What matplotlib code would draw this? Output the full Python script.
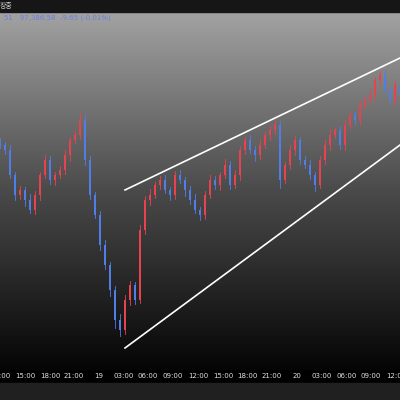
import matplotlib
matplotlib.use("Agg")
import matplotlib.pyplot as plt
import numpy as np
from matplotlib.colors import LinearSegmentedColormap

# closes (price units = chart pixel scale), one candle every 5 units of x
closes = [255,250,225,205,210,200,190,205,225,240,220,225,230,245,260,265,280,240,205,185,
          155,135,110,80,70,100,115,100,170,200,205,215,220,210,205,225,220,210,200,190,
          185,205,220,215,225,235,215,225,250,260,250,245,255,265,270,275,220,235,250,260,
          240,235,225,215,240,255,265,270,255,275,285,280,295,300,305,320,325,310,300,315,305]
wick_hi = [4,3,5,3,4,3,6,4,3,5,4,3,4,5,3,4,7,5,4,3,4,5,3,4,6,5,4,3,5,4,6,3,4,5,3,4,5,3,4,6,
           3,4,5,4,3,6,4,5,4,3,5,4,6,3,4,5,4,3,5,4,3,4,5,3,4,5,6,3,4,5,4,3,5,4,6,3,4,5,3,4,5]
wick_lo = [3,4,3,5,4,6,3,4,5,3,4,5,3,4,6,3,4,5,4,3,5,4,6,8,6,4,5,4,3,4,5,3,4,3,5,4,3,6,4,3,
           5,4,3,4,5,3,4,3,5,4,3,6,4,3,5,4,8,3,4,5,4,3,4,6,3,4,5,3,4,5,3,4,5,4,3,5,4,3,4,5,3]
upper_line = [(125, 210), (400, 342)]
lower_line = [(125, 52), (400, 255)]
tick_x = [0,25,50,74,99,124,148,173,198,223,247,272,297,322,347,371,396]
tick_labels = ["12:00","15:00","18:00","21:00","19","03:00","06:00","09:00","12:00",
               "15:00","18:00","21:00","20","03:00","06:00","09:00","12:00"]

fig = plt.figure(figsize=(4,4), dpi=100)
fig.patch.set_facecolor("#000000")
ax = fig.add_axes([0, 30/400, 1, 358/400])
ax.set_xlim(0, 400); ax.set_ylim(30, 388)
grad = np.linspace(0, 1, 256).reshape(-1, 1)
cm = LinearSegmentedColormap.from_list("g", ["#a2a2a2", "#4a4a4a", "#050505"])
ax.imshow(grad, aspect="auto", cmap=cm, extent=[0,400,30,388], origin="upper", zorder=0)
for s in ax.spines.values(): s.set_visible(False)
ax.set_xticks([]); ax.set_yticks([])

prev = closes[0] + 3
for i, c in enumerate(closes):
    x = i * 5
    o = prev
    col = "#e8424e" if c >= o else "#4f7ee8"
    hi = max(o, c) + wick_hi[i]; lo = min(o, c) - wick_lo[i]
    ax.plot([x, x], [lo, hi], color=col, lw=0.6, zorder=2)
    ax.bar(x, abs(c - o) if abs(c - o) > 0.5 else 0.8, bottom=min(o, c), width=2.0, color=col, zorder=3)
    prev = c

for ln in (upper_line, lower_line):
    ax.plot([ln[0][0], ln[1][0]], [ln[0][1], ln[1][1]], color="white", lw=1.2, zorder=4)

# top strip
fig.patches.append(plt.Rectangle((0, 388/400), 1, 12/400, transform=fig.transFigure, color="#161616"))
fig.text(0.0, 394/400, "장중", color="#cccccc", fontsize=5, va="center",
         family=["Noto Sans CJK KR", "DejaVu Sans"])
fig.text(0.01, 382/400, "51   97,386.58  -9.65 (-0.01%)", color="#6a7fe0", fontsize=5, va="center")
# bottom strip
fig.patches.append(plt.Rectangle((0, 0), 1, 17/400, transform=fig.transFigure, color="#202020"))
for tx, tl in zip(tick_x, tick_labels):
    fig.text(tx/400, 23.5/400, tl, color="#e0e0e0", fontsize=5, ha="center", va="center")
fig.savefig("out.png", dpi=100, facecolor=fig.get_facecolor())
